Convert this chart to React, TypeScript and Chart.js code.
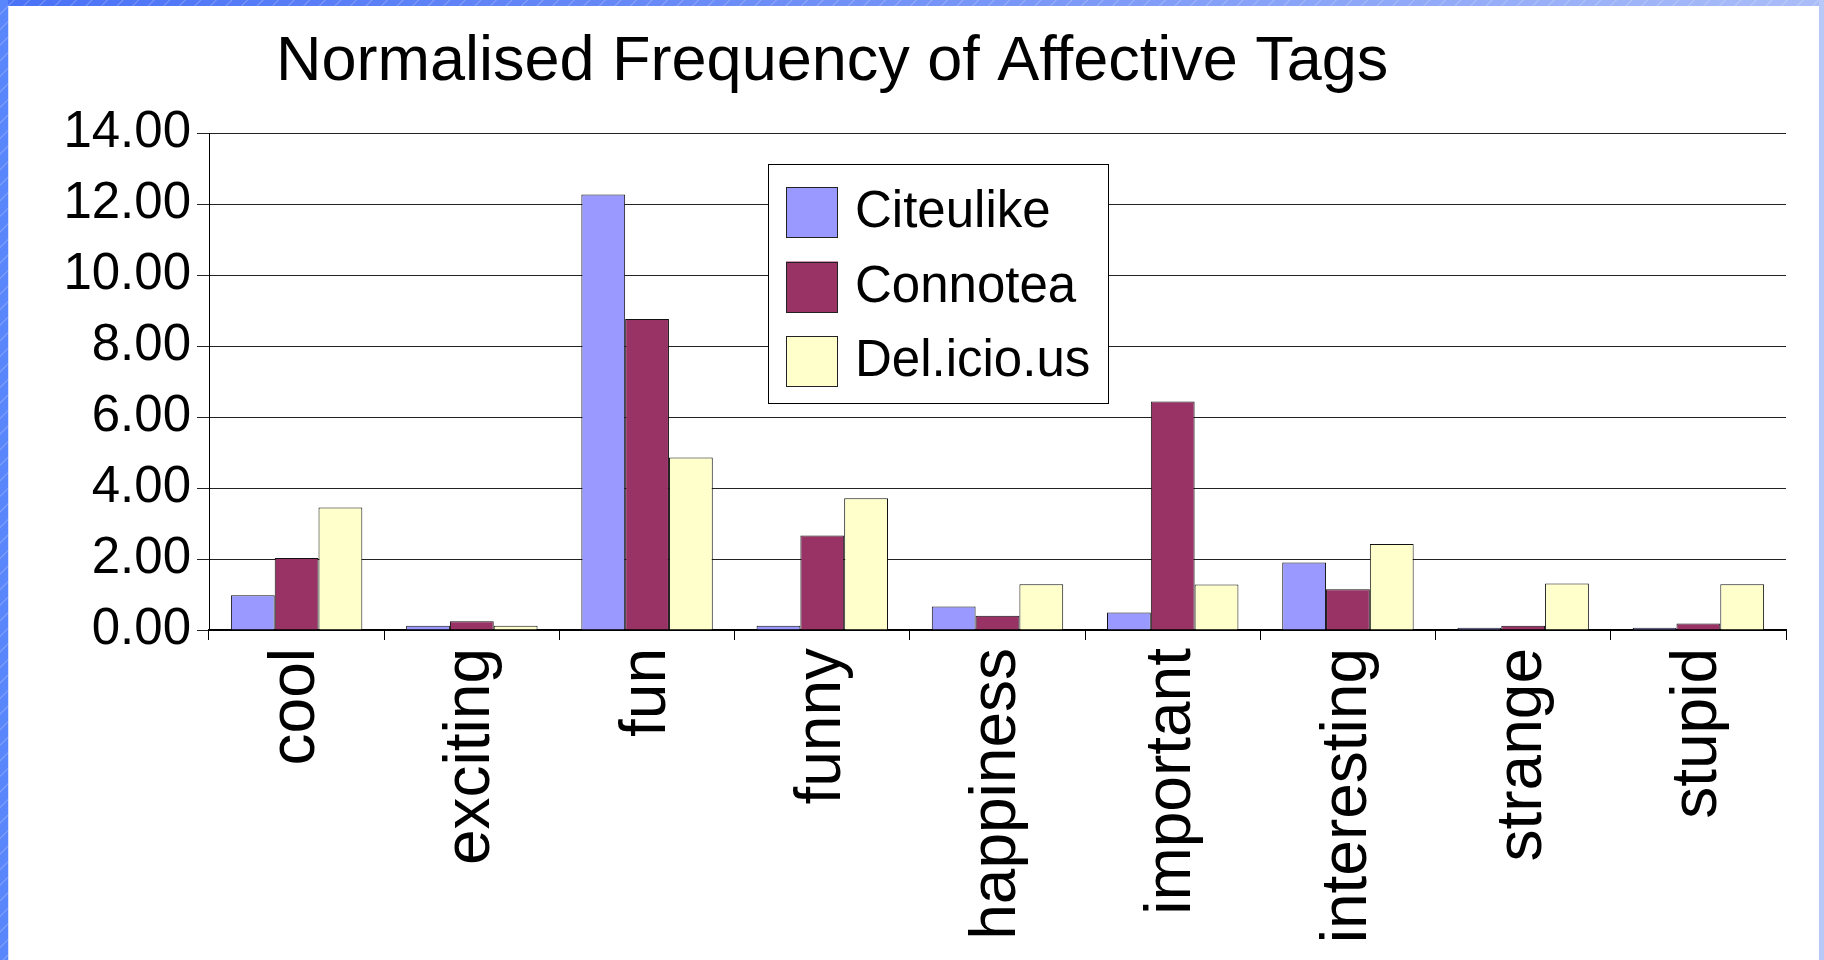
import React, { useEffect, useRef } from 'react';
import { Chart, registerables } from 'chart.js';

Chart.register(...registerables);

const TITLE = 'Normalised Frequency of Affective Tags';
const categories = ['cool', 'exciting', 'fun', 'funny', 'happiness', 'important', 'interesting', 'strange', 'stupid'];
const seriesNames = ['Citeulike', 'Connotea', 'Del.icio.us'];
const citeulike = [0.98, 0.12, 12.27, 0.12, 0.66, 0.49, 1.9, 0.06, 0.06];
const connotea = [2.03, 0.245, 8.76, 2.66, 0.4, 6.44, 1.15, 0.12, 0.18];
const delicious = [3.45, 0.12, 4.86, 3.71, 1.29, 1.28, 2.42, 1.31, 1.29];
const seriesColors = ['#9999ff', '#993366', '#ffffcc'];
const yMin = 0;
const yMax = 14;
const yStep = 2;

const FONT = '"Liberation Sans", Arial, Helvetica, sans-serif';

const overlayPlugin = {
  id: 'overlayTitleLegend',
  afterDraw(chart: any) {
    const ctx = chart.ctx;
    ctx.save();
    // title
    ctx.fillStyle = '#000';
    ctx.font = `63px ${FONT}`;
    ctx.textAlign = 'left';
    ctx.textBaseline = 'alphabetic';
    ctx.fillText(TITLE, 276, 80);
    // legend
    const lx = 768, ly = 164, lw = 340, lh = 239;
    ctx.fillStyle = '#fff';
    ctx.fillRect(lx, ly, lw, lh);
    ctx.strokeStyle = '#000';
    ctx.lineWidth = 1;
    ctx.strokeRect(lx + 0.5, ly + 0.5, lw, lh);
    chart.data.datasets.forEach((ds: any, i: number) => {
      const y = 187 + i * 74.5;
      ctx.fillStyle = ds.backgroundColor;
      ctx.fillRect(786, y, 52, 51);
      ctx.strokeStyle = '#222';
      ctx.strokeRect(786.5, Math.round(y) + 0.5, 51, 50);
      ctx.fillStyle = '#000';
      ctx.font = `51px ${FONT}`;
      ctx.fillText(ds.label, 855, y + 40);
    });
    ctx.restore();
  },
};

export default function App() {
  const ref = useRef<HTMLCanvasElement | null>(null);

  useEffect(() => {
    document.body.style.margin = '0';
    const canvas = ref.current;
    if (!canvas) return;
    const series = [citeulike, connotea, delicious];
    const chart = new Chart(canvas, {
      type: 'bar',
      data: {
        labels: categories,
        datasets: series.map((d, i) => ({
          label: seriesNames[i],
          data: d,
          backgroundColor: seriesColors[i],
          borderColor: '#111',
          borderWidth: 1,
          categoryPercentage: 0.75,
          barPercentage: 1.0,
        })),
      },
      options: {
        animation: false,
        responsive: false,
        devicePixelRatio: 1,
        layout: { padding: { left: 0, right: 38, top: 133, bottom: 0 } },
        plugins: {
          legend: { display: false },
          title: { display: false },
          tooltip: { enabled: false },
        },
        scales: {
          x: {
            offset: true,
            grid: {
              display: true,
              offset: true,
              drawOnChartArea: false,
              drawTicks: true,
              tickLength: 10,
              color: '#000',
              lineWidth: 1,
            },
            border: { display: true, color: '#000', width: 2 },
            ticks: {
              autoSkip: false,
              minRotation: 90,
              maxRotation: 90,
              padding: 8,
              color: '#000',
              font: { family: FONT, size: 64 },
            },
            afterFit: (scale: any) => {
              scale.height = 330;
            },
          },
          y: {
            min: yMin,
            max: yMax,
            grid: {
              display: true,
              drawOnChartArea: true,
              drawTicks: true,
              tickLength: 12,
              color: '#222',
              lineWidth: 1,
            },
            border: { display: true, color: '#000', width: 1 },
            ticks: {
              stepSize: yStep,
              padding: 6,
              color: '#000',
              font: { family: FONT, size: 51 },
              callback: (v: any) => Number(v).toFixed(2),
            },
            afterFit: (scale: any) => {
              scale.width = 209;
            },
          },
        },
      },
      plugins: [overlayPlugin],
    });
    return () => chart.destroy();
  }, []);

  const stripes = 'repeating-linear-gradient(135deg, rgba(255,255,255,0) 0px, rgba(255,255,255,0) 9px, rgba(255,255,255,0.25) 10px, rgba(255,255,255,0) 11px)';

  return (
    <div style={{ position: 'relative', width: 1824, height: 960, background: '#fff', overflow: 'hidden' }}>
      <div style={{ position: 'absolute', left: 0, top: 0, width: 1824, height: 6, background: `${stripes}, linear-gradient(to right, #4a72f6, #7d9af7 60%, #aabdf8)` }} />
      <div style={{ position: 'absolute', left: 0, top: 0, width: 8, height: 960, background: `${stripes}, #5a86fc` }} />
      <div style={{ position: 'absolute', left: 8, top: 6, width: 1, height: 954, background: '#d8e2fe' }} />
      <div style={{ position: 'absolute', left: 1819, top: 0, width: 5, height: 960, background: '#b8c8f8' }} />
      <canvas ref={ref} width={1824} height={960} style={{ position: 'absolute', left: 0, top: 0, width: 1824, height: 960 }} />
    </div>
  );
}
